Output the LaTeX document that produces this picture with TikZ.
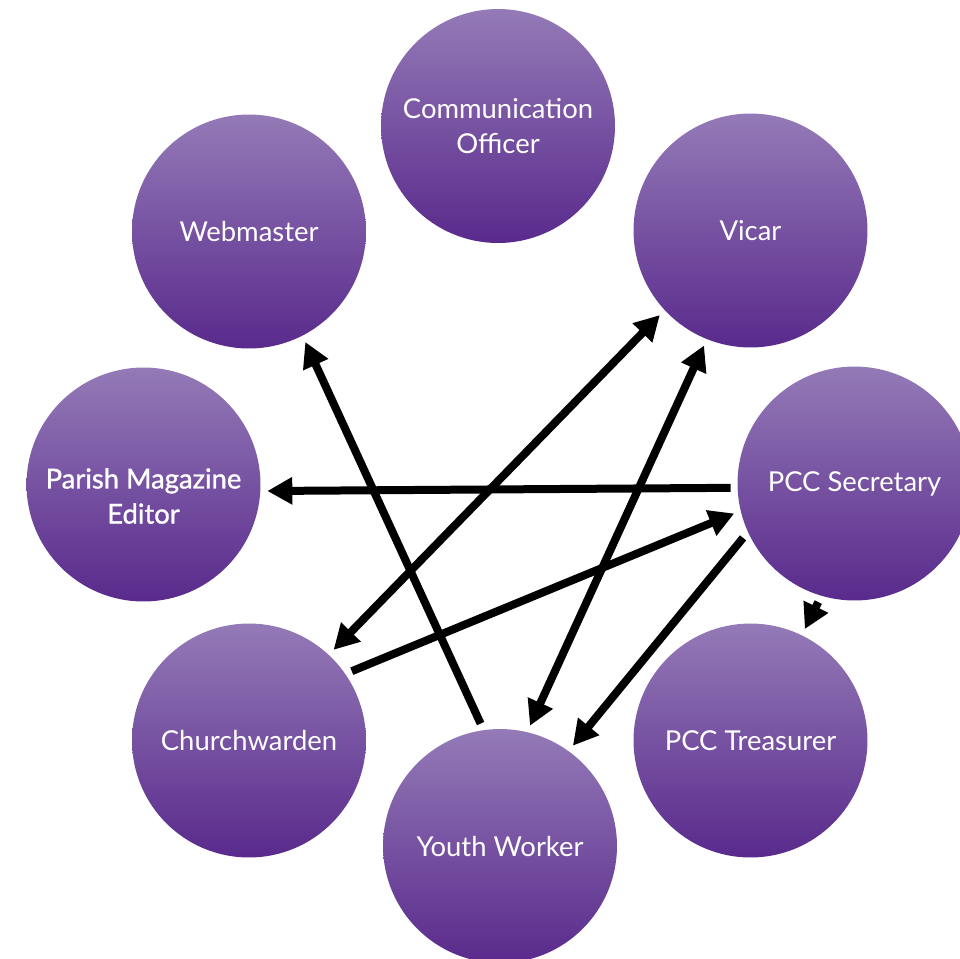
\documentclass[tikz,border=0pt]{standalone}
\usepackage{fontspec}
\setmainfont{Lato}
\newfontfamily\heavyrole[FakeBold=1.2]{Lato}
\usetikzlibrary{arrows.meta}
\definecolor{roletop}{RGB}{148,122,183}
\definecolor{rolebot}{RGB}{89,42,140}
\begin{document}
\begin{tikzpicture}[x=0.02cm,y=-0.02cm,
  role/.style={circle, minimum size=4.68cm, inner sep=0pt, outer sep=0.14cm,
    top color=roletop, bottom color=rolebot, text=white,
    font=\fontsize{15.6}{20}\selectfont, align=center},
  link/.style={line width=0.16cm, -{Triangle[length=0.5cm,width=0.52cm]}},
  twoway/.style={line width=0.16cm, {Triangle[length=0.5cm,width=0.52cm]}-{Triangle[length=0.5cm,width=0.52cm]}}]
\useasboundingbox (0,0) rectangle (960,958);
\clip (0,0) rectangle (960,958);

% the eight roles
\node[role] (comm) at (498,126) {Communication\\Officer};
\node[role] (web) at (249,231.5) {Webmaster};
\node[role] (vicar) at (750.5,230.5) {Vicar};
\node[role] (pme) at (143.5,484.5) {};
\node[font=\heavyrole\fontsize{15.6}{20}\selectfont, text=white, align=center] (pmetext) at (143.5,496) {Parish Magazine\\Editor};
\node[role] (sec) at (854.5,483.5) {PCC Secretary};
\node[role] (cw) at (249,740.5) {Churchwarden};
\node[role] (treas) at (750.5,740.5) {PCC Treasurer};
\node[role] (yw) at (500,846) {Youth Worker};

% lines of communication
\draw[link] (yw.99.4) -- (web.297.5);
\draw[link] (sec.182.6) -- (pme.357.5);
\draw[twoway] (vicar.223.7) -- (cw.47.1);
\draw[link] (cw.34.4) -- (sec.194.4);
\draw[twoway] (vicar.248) -- (yw.76.2);
\draw[link] (sec.206) -- (yw.54.4);
\draw[link] (sec.253.8) -- (treas.64.6);
\end{tikzpicture}
\end{document}
